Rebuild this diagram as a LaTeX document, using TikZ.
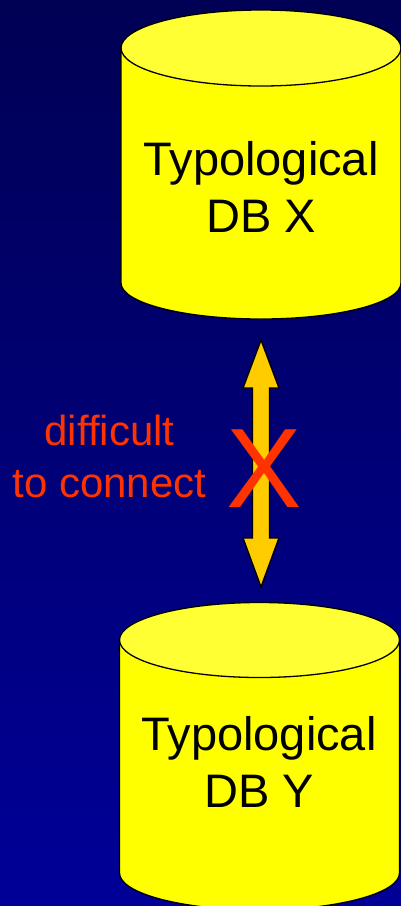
\documentclass[tikz,border=0pt]{standalone}
\usepackage{fontspec}
\setmainfont{Liberation Sans}
\usepackage{xcolor}
\usepackage{tikz}
\usetikzlibrary{calc,positioning}

\definecolor{bgtop}{RGB}{0,0,84}
\definecolor{bgbot}{RGB}{0,0,152}
\definecolor{dbyellow}{RGB}{255,255,0}
\definecolor{dblight}{RGB}{255,255,51}
\definecolor{arrowfill}{RGB}{255,204,0}
\definecolor{warnred}{RGB}{255,51,0}

\begin{document}
\begin{tikzpicture}[x=1pt, y=1pt,
    dbbody/.style={draw=black, line width=1.3pt, fill=dbyellow},
    dbtop/.style={draw=black, line width=1.3pt, fill=dblight},
    dblabel/.style={anchor=base, inner sep=0pt, align=center, text=black, font=\fontsize{47}{57}\selectfont},
    fatarrow/.style={draw=black, line width=1.4pt, fill=arrowfill, line join=miter},
    warnlabel/.style={anchor=base, inner sep=0pt, align=center, text=warnred, font=\fontsize{42}{52}\selectfont}
]
\fill[top color=bgtop, bottom color=bgbot] (0,0) rectangle (401,-906);
\useasboundingbox (0,0) rectangle (401,-906);

\draw[dbbody] (121,-48) -- (121,-283) arc[start angle=180, end angle=360, x radius=140, y radius=36] -- (401,-48) -- cycle;
\draw[dbtop] (261,-48) ellipse [x radius=140, y radius=38];
\node[dblabel] (dbx) at (261,-232) {Typological\\DB X};

\draw[dbbody] (119.5,-640) -- (119.5,-873) arc[start angle=180, end angle=360, x radius=140, y radius=37] -- (399.5,-640) -- cycle;
\draw[dbtop] (259.5,-640) ellipse [x radius=140, y radius=37.5];
\node[dblabel] (dby) at (259,-807) {Typological\\DB Y};

\coordinate (tipx) at (261,-340);
\coordinate (tipy) at (261,-587);
\draw[fatarrow] (tipx) -- ($(tipx)+(18,-48)$) -- ($(tipx)+(8.5,-48)$) -- ($(tipy)+(8.5,49)$) -- ($(tipy)+(18,49)$)
    -- (tipy) -- ($(tipy)+(-18,49)$) -- ($(tipy)+(-8.5,49)$) -- ($(tipx)+(-8.5,-48)$) -- ($(tipx)+(-18,-48)$) -- cycle;

\node[anchor=base, inner sep=0pt, text=warnred, font=\fontsize{113}{113}\selectfont] (cross) at (264,-507) {X};
\node[warnlabel] (hint) at (109.5,-497) {difficult\\to connect};
\end{tikzpicture}
\end{document}
